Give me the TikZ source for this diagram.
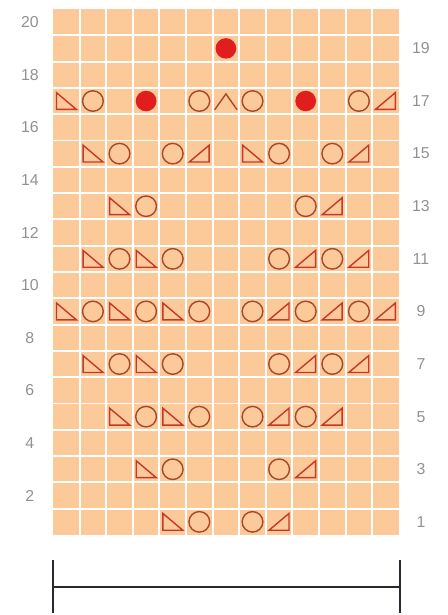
\documentclass[tikz,border=0pt]{standalone}
\usepackage{fontspec}
\setsansfont{Liberation Sans}
\usetikzlibrary{positioning}
\definecolor{chartbg}{RGB}{251,202,152}
\definecolor{symred}{RGB}{200,55,45}
\definecolor{yobrown}{RGB}{170,70,45}
\definecolor{bobred}{RGB}{225,30,30}
\definecolor{rownum}{RGB}{145,145,145}
\definecolor{barink}{RGB}{40,40,50}
\tikzset{
  symline/.style={symred, line width=1.2pt, line join=miter},
  gridline/.style={white, line width=1.6pt},
  rowlabel/.style={font=\sffamily\fontsize{13.5}{13.5}\selectfont, text=rownum, inner sep=0pt},
  barline/.style={barink, line width=2.4pt},
  ltri/.pic={\draw[symline] (-0.37,0.32) -- (-0.37,-0.32) -- (0.38,-0.32) -- cycle;},
  rtri/.pic={\draw[symline] (0.37,0.32) -- (0.37,-0.32) -- (-0.38,-0.32) -- cycle;},
  yo/.pic={\draw[symline, yobrown] (0,0) circle[radius=0.39];},
  bobble/.pic={\fill[bobred] (0,0) circle[radius=0.39];},
  cdd/.pic={\draw[symline, yobrown] (-0.42,-0.33) -- (0,0.27) -- (0.42,-0.33);}
}

\begin{document}
\begin{tikzpicture}[x=0.03cm, y=0.03cm]
\useasboundingbox (0,0) rectangle (447,615);
\begin{scope}[shift={(53,80)}, x=0.798cm, y=0.789cm]
% chart background and cell lines
\fill[chartbg] (0,0) rectangle (13,20);
\foreach \c in {1,...,12} \draw[gridline] (\c,0) -- (\c,20);
\foreach \r in {1,...,19} \draw[gridline] (0,\r) -- (13,\r);
% stitch symbols, (column/row)
\foreach \c/\r in {5/1,4/3,3/5,5/5,2/7,4/7,1/9,3/9,5/9,2/11,4/11,3/13,2/15,8/15,1/17}
  \pic at (\c-0.5,\r-0.5) {ltri};
\foreach \c/\r in {9/1,10/3,9/5,11/5,10/7,12/7,9/9,11/9,13/9,10/11,12/11,11/13,6/15,12/15,13/17}
  \pic at (\c-0.5,\r-0.5) {rtri};
\foreach \c/\r in {6/1,8/1,5/3,9/3,4/5,6/5,8/5,10/5,3/7,5/7,9/7,11/7,
  2/9,4/9,6/9,8/9,10/9,12/9,3/11,5/11,9/11,11/11,4/13,10/13,
  3/15,5/15,9/15,11/15,2/17,6/17,8/17,12/17}
  \pic at (\c-0.5,\r-0.5) {yo};
\foreach \c/\r in {4/17,10/17,7/19}
  \pic at (\c-0.5,\r-0.5) {bobble};
\pic at (6.5,16.5) {cdd};
% row numbers
\foreach \r in {2,4,...,20} \node[rowlabel] (lab\r) at (-0.87,\r-0.5) {\r};
\foreach \r in {1,3,...,19} \node[rowlabel] (lab\r) at (13.83,\r-0.5) {\r};
\end{scope}
% width bar
\coordinate (barL) at (53,28);
\coordinate (barR) at (400,28);
\coordinate (barLt) at (53,55);
\coordinate (barLb) at (53,2);
\coordinate (barRt) at (400,55);
\coordinate (barRb) at (400,2);
\draw[barline] (barL) -- (barR);
\draw[barline] (barLt) -- (barLb);
\draw[barline] (barRt) -- (barRb);
\end{tikzpicture}
\end{document}
